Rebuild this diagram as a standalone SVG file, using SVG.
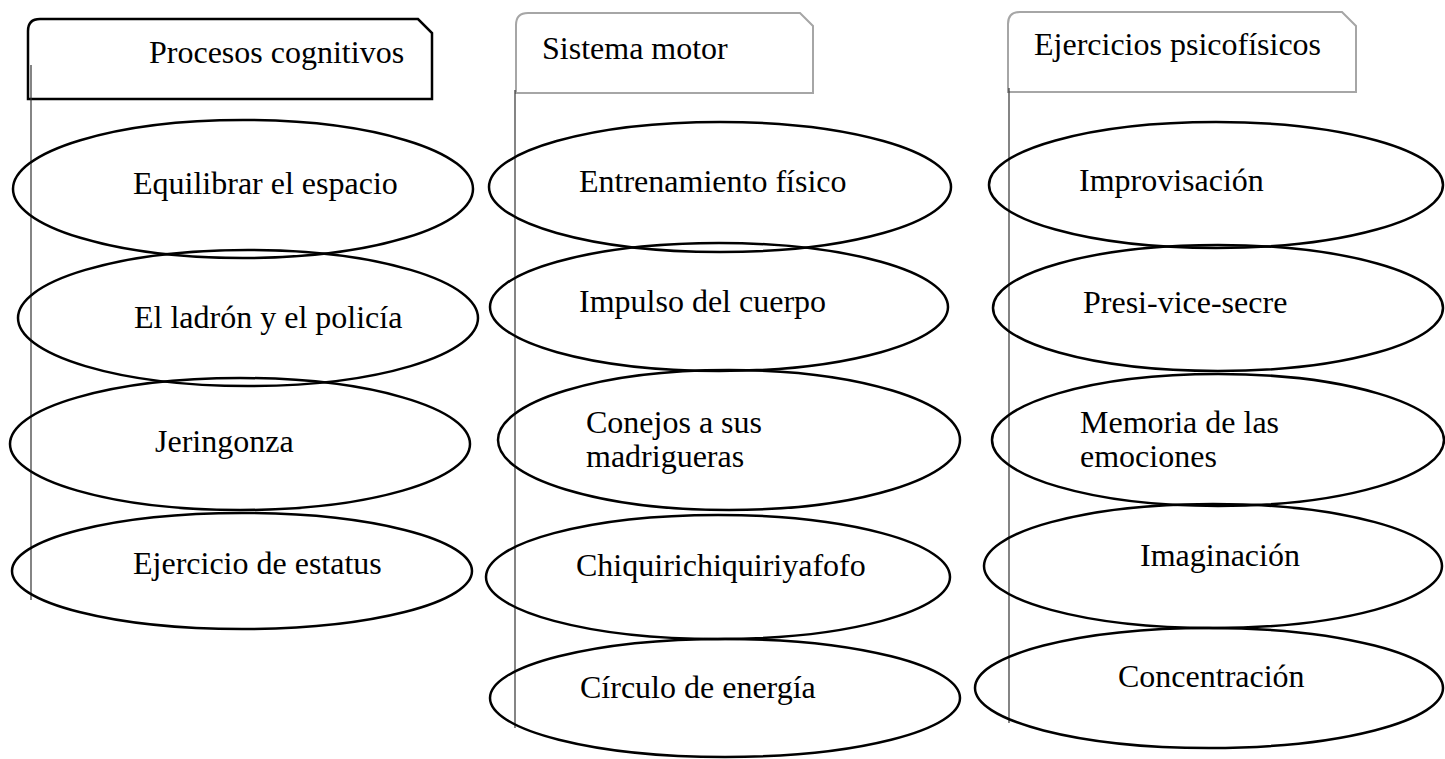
<svg xmlns="http://www.w3.org/2000/svg" width="1445" height="759" viewBox="0 0 1445 759">
<style>
text{font-family:"Liberation Serif","Times New Roman",serif;font-size:32px;fill:#000}
.hd{fill:#fff;stroke-width:2.5}
.h1{stroke:#000}
.h2{stroke:#a6a6a6;stroke-width:2}
.el{fill:none;stroke:#000;stroke-width:2.5}
.cn{stroke:#333;stroke-width:1.2;fill:none}
</style>
<rect width="1445" height="759" fill="#fff"/>
<g id="header-1"><path class="hd h1" d="M28,99 L28,31 Q28,19 40,19 L418,19 L432,33 L432,99 Z"/><text x="149" y="63">Procesos cognitivos</text></g>
<g id="header-2"><path class="hd h2" d="M516,93 L516,25 Q516,13 528,13 L800,13 L813,26 L813,93 Z"/><text x="542" y="59">Sistema motor</text></g>
<g id="header-3"><path class="hd h2" d="M1008,92 L1008,24 Q1008,12 1020,12 L1342,12 L1356,26 L1356,92 Z"/><text x="1034" y="55">Ejercicios psicofísicos</text></g>
<g id="connectors">
<line class="cn" x1="31" y1="65" x2="31" y2="600"/>
<line class="cn" x1="515" y1="90" x2="515" y2="728"/>
<line class="cn" x1="1009" y1="88" x2="1009" y2="723"/>
</g>
<g id="n1-1"><ellipse class="el" cx="243" cy="189" rx="230" ry="69"/><text x="133" y="194">Equilibrar el espacio</text></g>
<g id="n1-2"><ellipse class="el" cx="248" cy="318" rx="230" ry="68"/><text x="134" y="328">El ladrón y el policía</text></g>
<g id="n1-3"><ellipse class="el" cx="240" cy="444" rx="230" ry="66"/><text x="155" y="452">Jeringonza</text></g>
<g id="n1-4"><ellipse class="el" cx="242" cy="571" rx="230" ry="58"/><text x="133" y="574">Ejercicio de estatus</text></g>
<g id="n2-1"><ellipse class="el" cx="720" cy="187" rx="231" ry="65"/><text x="579" y="192">Entrenamiento físico</text></g>
<g id="n2-2"><ellipse class="el" cx="719" cy="307" rx="229" ry="64"/><text x="579" y="312">Impulso del cuerpo</text></g>
<g id="n2-3"><ellipse class="el" cx="729" cy="440" rx="231" ry="70"/><text x="586" y="433">Conejos a sus</text><text x="586" y="467">madrigueras</text></g>
<g id="n2-4"><ellipse class="el" cx="718" cy="577" rx="232" ry="62"/><text x="576" y="576">Chiquirichiquiriyafofo</text></g>
<g id="n2-5"><ellipse class="el" cx="725" cy="698" rx="235" ry="59"/><text x="580" y="698">Círculo de energía</text></g>
<g id="n3-1"><ellipse class="el" cx="1216" cy="185" rx="227" ry="63"/><text x="1079" y="191">Improvisación</text></g>
<g id="n3-2"><ellipse class="el" cx="1218" cy="308" rx="225" ry="63"/><text x="1083" y="313">Presi-vice-secre</text></g>
<g id="n3-3"><ellipse class="el" cx="1218" cy="440" rx="226" ry="66"/><text x="1080" y="433">Memoria de las</text><text x="1080" y="467">emociones</text></g>
<g id="n3-4"><ellipse class="el" cx="1213" cy="566" rx="229" ry="62"/><text x="1140" y="566">Imaginación</text></g>
<g id="n3-5"><ellipse class="el" cx="1209" cy="688" rx="234" ry="60"/><text x="1118" y="687">Concentración</text></g>
</svg>
